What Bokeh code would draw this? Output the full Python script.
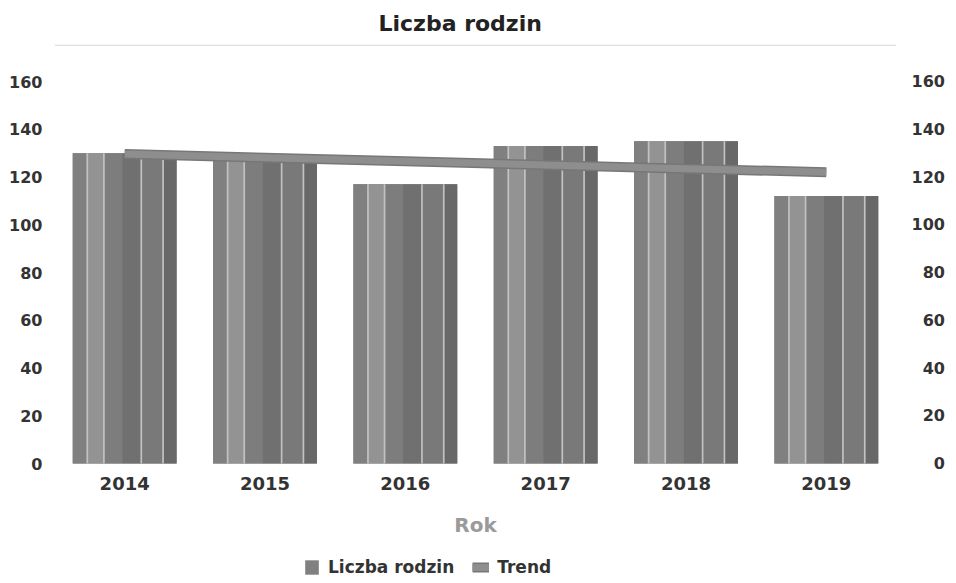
from bokeh.plotting import figure
from bokeh.models import (Range1d, LinearAxis, FixedTicker, Legend, LegendItem, Span)
from bokeh.embed import file_html
from bokeh.resources import INLINE

# ---- data ----
years = ["2014", "2015", "2016", "2017", "2018", "2019"]
liczba_rodzin = [130, 128, 117, 133, 135, 112]
trend = [129.6, 128.1, 126.6, 125.0, 123.5, 122.0]
y_ticks = [0, 20, 40, 60, 80, 100, 120, 140, 160]

xs = list(range(len(years)))

W, H = 950, 580
FONT = "DejaVu Sans"
TOP = 44                       # figure top -> frame top (title panel)
ZERO_Y = 463                   # pixel row of value 0 (from figure top)
PX_PER_UNIT = 382 / 160
Y_END = 160 + (ZERO_Y - 382 - TOP) / PX_PER_UNIT
Y_START = -(H - ZERO_Y) / PX_PER_UNIT

p = figure(width=W, height=H, output_backend="svg", toolbar_location=None,
           x_range=Range1d(-0.5, len(years) - 0.5), y_range=Range1d(Y_START, Y_END),
           min_border_left=54, min_border_right=54, min_border_top=TOP,
           min_border_bottom=0, x_axis_location=None, y_axis_location=None,
           title="Liczba rodzin")
p.outline_line_color = None
p.background_fill_color = "white"
p.border_fill_color = "white"
p.grid.visible = False

p.title.align = "left"
p.title.offset = 324
p.title.standoff = 17
p.title.text_font = FONT
p.title.text_font_style = "bold"
p.title.text_font_size = "22px"
p.title.text_color = "#222222"

# thin rule under the title
p.add_layout(Span(location=Y_END - 0.6 / PX_PER_UNIT, dimension="width",
                  line_color="#cfcfcf", line_width=1))

# striped "cylinder" bars
BW = 0.74
segments = [
    (0.00, 1.00, "#777777"),
    (0.00, 0.14, "#808080"),
    (0.14, 0.30, "#939393"),
    (0.30, 0.48, "#7d7d7d"),
    (0.48, 0.66, "#707070"),
    (0.66, 0.87, "#797979"),
    (0.87, 1.00, "#686868"),
]
seg_renderers = []
for s, e, c in segments:
    r = p.vbar(x=[xi - BW / 2 + (s + e) / 2 * BW for xi in xs], width=(e - s) * BW,
               top=liczba_rodzin, bottom=0, fill_color=c, line_color=None)
    seg_renderers.append(r)
for f in (0.14, 0.30, 0.66, 0.87):
    p.vbar(x=[xi - BW / 2 + f * BW for xi in xs], width=0.012,
           top=liczba_rodzin, bottom=0, fill_color="#c2c2c2", line_color=None)

# trend line
t_outer = p.line(xs, trend, line_width=10, line_color="#777777")
t_inner = p.line(xs, trend, line_width=7, line_color="#8e8e8e")

# axes
def style_axis(ax, size):
    ax.axis_line_color = None
    ax.major_tick_line_color = None
    ax.minor_tick_line_color = None
    ax.major_label_text_font = FONT
    ax.major_label_text_font_style = "bold"
    ax.major_label_text_font_size = size
    ax.major_label_text_color = "#333333"

xaxis = LinearAxis(ticker=FixedTicker(ticks=xs),
                   major_label_overrides={i: y for i, y in enumerate(years)},
                   axis_label="Rok", fixed_location=0)
style_axis(xaxis, "18px")
xaxis.major_label_standoff = 7
xaxis.axis_label_standoff = 20
xaxis.axis_label_text_font = FONT
xaxis.axis_label_text_font_style = "bold"
xaxis.axis_label_text_font_size = "20px"
xaxis.axis_label_text_color = "#9a9a9a"
p.add_layout(xaxis, "below")

yl = LinearAxis(ticker=FixedTicker(ticks=y_ticks))
style_axis(yl, "16px")
yl.major_label_standoff = 6
p.add_layout(yl, "left")

FS = "\u2007"
yr = LinearAxis(ticker=FixedTicker(ticks=y_ticks),
                major_label_overrides={t: FS * (3 - len(str(t))) + str(t) for t in y_ticks})
style_axis(yr, "16px")
yr.major_label_standoff = 9
p.add_layout(yr, "right")

# legend (inside the extended frame, under the axis title)
legend = Legend(items=[LegendItem(label="Liczba rodzin", renderers=[seg_renderers[1]]),
                       LegendItem(label="Trend", renderers=[t_outer, t_inner])],
                orientation="horizontal", location=(249, H - 577),
                label_text_font=FONT, label_text_font_style="bold",
                label_text_font_size="17px", label_text_color="#333333",
                glyph_width=17, glyph_height=18, label_standoff=8, spacing=18,
                padding=0, margin=0, border_line_color=None,
                background_fill_alpha=0, label_height=18)
p.add_layout(legend, "center")

open("out.html", "w").write(file_html(p, INLINE))
